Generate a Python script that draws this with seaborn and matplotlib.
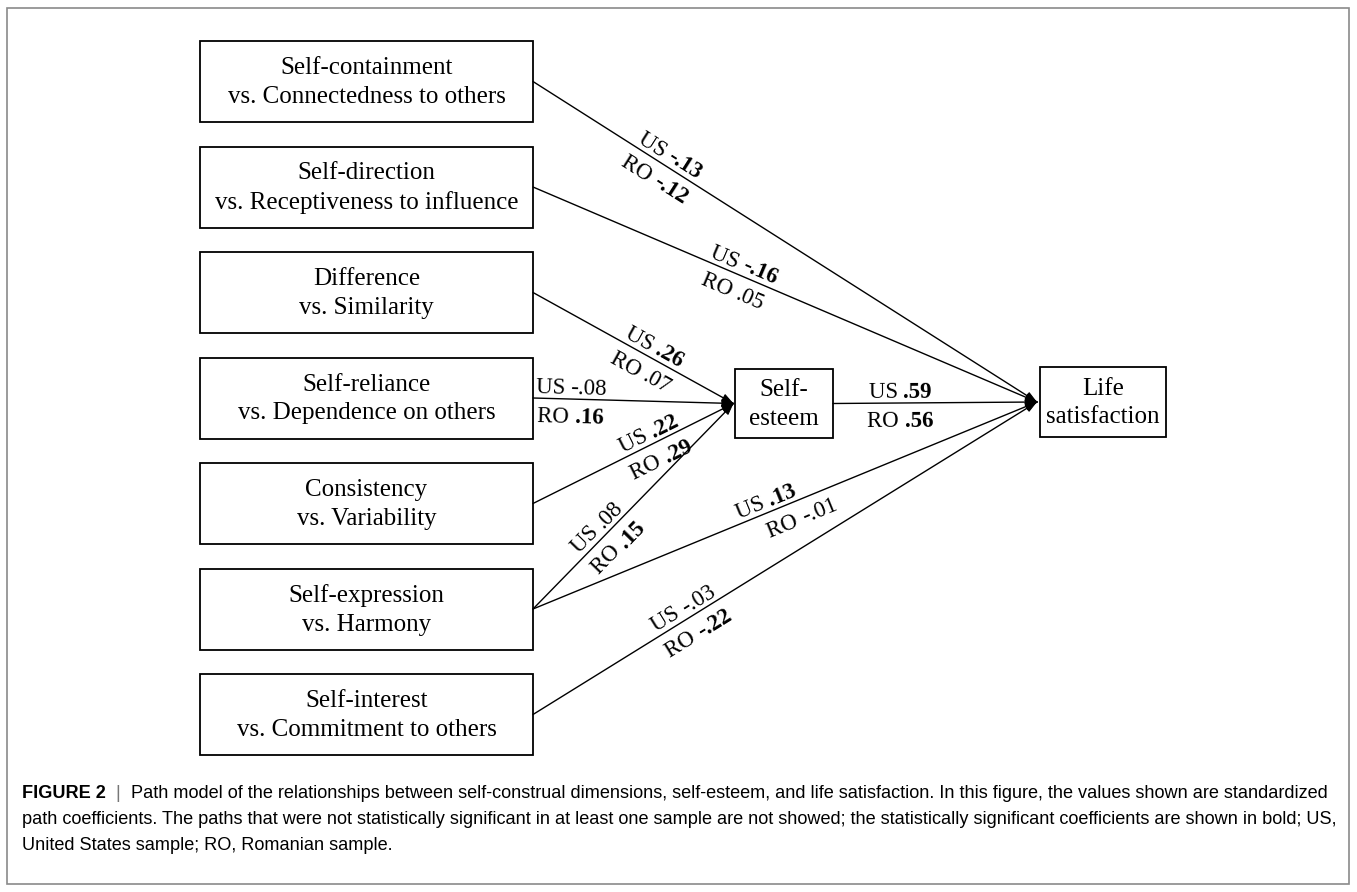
import matplotlib
matplotlib.use("Agg")
import matplotlib.pyplot as plt
from matplotlib import font_manager
from matplotlib.patches import Rectangle
import seaborn as sns
import pandas as pd
import numpy as np

# ---------------- data ----------------
predictors = [
    "Self-containment\nvs. Connectedness to others",
    "Self-direction\nvs. Receptiveness to influence",
    "Difference\nvs. Similarity",
    "Self-reliance\nvs. Dependence on others",
    "Consistency\nvs. Variability",
    "Self-expression\nvs. Harmony",
    "Self-interest\nvs. Commitment to others",
]
mediator = "Self-\nesteem"
outcome = "Life\nsatisfaction"

edge_source = ["P0", "P1", "P2", "P3", "P4", "P5", "P5", "P6", "SE"]
edge_target = ["LS", "LS", "SE", "SE", "SE", "SE", "LS", "LS", "LS"]
us_coef = ["-.13", "-.16", ".26", "-.08", ".22", ".08", ".13", "-.03", ".59"]
us_sig = [True, True, True, False, True, False, True, False, True]
ro_coef = ["-.12", ".05", ".07", ".16", ".29", ".15", "-.01", "-.22", ".56"]
ro_sig = [True, False, False, True, True, True, False, True, True]

caption_lines = [
    [("FIGURE 2", "bold"), ("  |  ", "normal"),
     ("Path model of the relationships between self-construal dimensions, self-esteem, and life satisfaction. "
      "In this figure, the values shown are standardized", "normal")],
    [("path coefficients. The paths that were not statistically significant in at least one sample are not showed; "
      "the statistically significant coefficients are shown in bold; US,", "normal")],
    [("United States sample; RO, Romanian sample.", "normal")],
]

# ---------------- layout ----------------
W, H = 1357, 892
LEFT_X0, LEFT_X1 = 200, 533
LEFT_Y0, PITCH, BOX_H = 81.5, 105.5, 81
SE_BOX = (735, 369, 98, 69)       # x, y, w, h
LS_BOX = (1040, 367, 126, 70)
label_t_us = [0.26, 0.41, 0.58, 0.19, 0.60, 0.36, 0.47, 0.31, 0.33]
label_t_ro = [0.26, 0.41, 0.58, 0.19, 0.60, 0.36, 0.52, 0.31, 0.33]
BOX_FS = 18
LAB_FS = 16.5

sns.set_theme(style="white")
plt.rcParams['font.family'] = ['Liberation Serif', 'DejaVu Serif']

fig = plt.figure(figsize=(W / 100, H / 100), dpi=100)
ax = fig.add_axes([0, 0, 1, 1])

# node anchor points
nodes_out = {}
nodes_in = {}
for i, _ in enumerate(predictors):
    cy = LEFT_Y0 + i * PITCH
    nodes_out[f"P{i}"] = (LEFT_X1, cy)
sx, sy, sw, sh = SE_BOX
lx, ly, lw_, lh = LS_BOX
nodes_in["SE"] = (sx - 1.5, sy + sh / 2)
nodes_out["SE"] = (sx + sw, sy + sh / 2)
nodes_in["LS"] = (lx - 3, ly + lh / 2)

# edges via seaborn
rows = []
for k, (s, t) in enumerate(zip(edge_source, edge_target)):
    x0, y0 = nodes_out[s]
    x1, y1 = nodes_in[t]
    rows.append(dict(edge=k, order=0, x=x0, y=y0))
    rows.append(dict(edge=k, order=1, x=x1, y=y1))
edges_df = pd.DataFrame(rows)
sns.lineplot(data=edges_df, x="x", y="y", units="edge", estimator=None, sort=False,
             color="black", linewidth=1.0, ax=ax, legend=False)

# arrowheads
for s, t in zip(edge_source, edge_target):
    x0, y0 = nodes_out[s]
    x1, y1 = nodes_in[t]
    L = np.hypot(x1 - x0, y1 - y0)
    ux, uy = (x1 - x0) / L, (y1 - y0) / L
    ax.annotate("", xy=(x1, y1), xytext=(x1 - ux * 8, y1 - uy * 8),
                arrowprops=dict(arrowstyle="-|>,head_length=0.55,head_width=0.2",
                                mutation_scale=13, color="black", lw=0.8,
                                shrinkA=0, shrinkB=0))

# boxes
def box(x, y, w, h, text):
    ax.add_patch(Rectangle((x, y), w, h, fill=False, edgecolor="black", lw=1.3))
    ax.text(x + w / 2, y + h / 2 + 1, text, ha="center", va="center", fontsize=BOX_FS,
            linespacing=1.4, color="black")

for i, txt in enumerate(predictors):
    cy = LEFT_Y0 + i * PITCH
    box(LEFT_X0, cy - BOX_H / 2, LEFT_X1 - LEFT_X0, BOX_H, txt)
box(*SE_BOX, mediator)
box(*LS_BOX, outcome)

ax.set_xlim(0, W)
ax.set_ylim(H, 0)
ax.axis("off")

renderer = fig.canvas.get_renderer()

def text_width(s, weight, fs, family=None):
    kw = {} if family is None else {"family": family}
    tt = ax.text(0, 0, s, fontsize=fs, weight=weight, **kw)
    w = tt.get_window_extent(renderer).width
    tt.remove()
    return w

def draw_parts(cx, cy, theta, parts, fs, family=None, align="center", colors=None):
    kw = {} if family is None else {"family": family}
    widths = [text_width(s, wt, fs, family) for s, wt in parts]
    total = sum(widths)
    dx, dy = np.cos(theta), -np.sin(theta)
    if align == "center":
        px, py = cx - dx * total / 2, cy - dy * total / 2
    else:
        px, py = cx, cy
    for j, ((s, wt), w) in enumerate(zip(parts, widths)):
        c = "black" if colors is None else colors[j]
        ax.text(px, py, s, fontsize=fs, weight=wt, rotation=np.degrees(theta),
                rotation_mode="anchor", ha="left", va="baseline", color=c, **kw)
        px += dx * w
        py += dy * w

# coefficient labels
for k, (s, t) in enumerate(zip(edge_source, edge_target)):
    x0, y0 = nodes_out[s]
    x1, y1 = nodes_in[t]
    theta = np.arctan2(-(y1 - y0), x1 - x0)
    nx, ny = -np.sin(theta), -np.cos(theta)   # up-normal in data coords
    up, down = 5, 24
    us_parts = [("US ", "normal"), (us_coef[k], "bold" if us_sig[k] else "normal")]
    ro_parts = [("RO ", "normal"), (ro_coef[k], "bold" if ro_sig[k] else "normal")]
    mx = x0 + (x1 - x0) * label_t_us[k]
    my = y0 + (y1 - y0) * label_t_us[k]
    draw_parts(mx + nx * up, my + ny * up, theta, us_parts, LAB_FS)
    mx = x0 + (x1 - x0) * label_t_ro[k]
    my = y0 + (y1 - y0) * label_t_ro[k]
    draw_parts(mx - nx * down, my - ny * down, theta, ro_parts, LAB_FS)

# caption
avail = {f.name for f in font_manager.fontManager.ttflist}
cap_family = "Liberation Sans Narrow" if "Liberation Sans Narrow" in avail else "Liberation Sans"
target_w = 1310
w12 = sum(text_width(s, wt, 12, cap_family) for s, wt in caption_lines[0])
cap_fs = 12 * target_w / w12
cap_y = [798, 824, 850]
for i, (line, yb) in enumerate(zip(caption_lines, cap_y)):
    cols = ["black", "#777777", "black"] if i == 0 else None
    draw_parts(22, yb, 0.0, line, cap_fs, family=cap_family, align="left", colors=cols)

# outer frame
ax.add_patch(Rectangle((7, 8), W - 15, H - 16, fill=False, edgecolor="#8a8a8a", lw=1.2))

fig.savefig("out.png", dpi=100)
